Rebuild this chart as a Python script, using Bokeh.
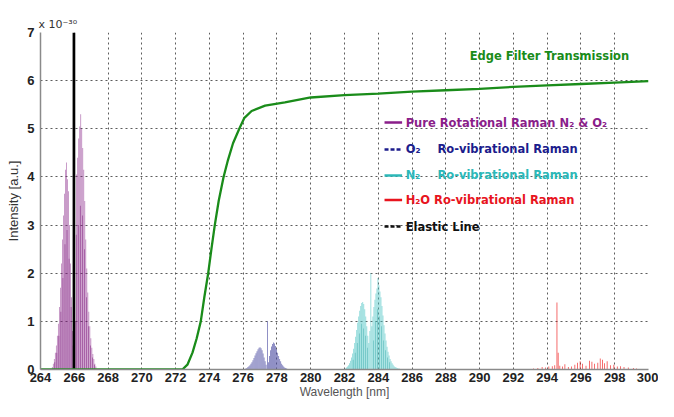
from bokeh.plotting import figure
from bokeh.models import Label, FixedTicker, Range1d
from bokeh.embed import file_html
from bokeh.resources import INLINE

# ---------------- data ----------------
x_ticks = list(range(264, 301, 2))
y_ticks = list(range(0, 8))

# Pure rotational Raman N2 & O2 (light envelope lines)
rot_x = [264.70, 264.76, 264.82, 264.88, 264.94, 265.00, 265.06, 265.12, 265.18, 265.24,
         265.30, 265.36, 265.42, 265.48, 265.54, 265.60, 265.66, 265.72, 265.78, 265.84,
         265.90, 266.08, 266.14, 266.20, 266.26, 266.32, 266.38, 266.44, 266.50, 266.56,
         266.62, 266.68, 266.74, 266.80, 266.86, 266.92, 266.98, 267.04, 267.10, 267.16,
         267.22, 267.28]
rot_y = [0.05, 0.12, 0.22, 0.35, 0.50, 0.70, 0.95, 1.30, 1.70, 2.20,
         2.70, 3.20, 3.65, 4.15, 4.30, 3.95, 3.70, 3.00, 2.20, 1.50,
         0.80, 1.00, 4.05, 4.40, 4.80, 5.05, 5.30, 5.00, 4.60, 4.15,
         3.50, 2.70, 2.10, 1.60, 1.20, 0.90, 0.65, 0.45, 0.32, 0.22,
         0.12, 0.06]
# Pure rotational Raman (darker interleaved lines)
rot2_x = [264.85, 264.97, 265.09, 265.21, 265.33, 265.45, 265.57, 265.69, 265.81, 265.93,
          266.11, 266.23, 266.35, 266.47, 266.59, 266.71, 266.83, 266.95, 267.07, 267.19]
rot2_y = [0.15, 0.35, 0.70, 1.20, 1.90, 2.60, 2.90, 2.30, 1.30, 0.50,
          2.80, 3.00, 3.40, 3.20, 2.50, 1.50, 0.90, 0.50, 0.25, 0.10]

# O2 ro-vibrational Raman
o2_x = [276.10, 276.16, 276.22, 276.28, 276.34, 276.40, 276.46, 276.52, 276.58, 276.64,
        276.70, 276.76, 276.82, 276.88, 276.94, 277.00, 277.06, 277.12, 277.18, 277.24,
        277.30, 277.36, 277.44, 277.50, 277.56, 277.62, 277.68, 277.74, 277.80, 277.86,
        277.92, 277.98, 278.04, 278.10, 278.16, 278.22, 278.28, 278.34, 278.40, 278.46,
        278.52, 278.58, 278.64, 278.70]
o2_y = [0.01, 0.02, 0.03, 0.05, 0.07, 0.09, 0.12, 0.15, 0.19, 0.24,
        0.29, 0.34, 0.38, 0.42, 0.45, 0.46, 0.44, 0.40, 0.33, 0.25,
        0.17, 0.10, 1.00, 0.15, 0.28, 0.40, 0.48, 0.53, 0.56, 0.54,
        0.49, 0.42, 0.35, 0.28, 0.22, 0.17, 0.12, 0.09, 0.06, 0.04,
        0.03, 0.02, 0.01, 0.01]

# N2 ro-vibrational Raman (light lines)
n2_x = [282.00, 282.06, 282.12, 282.18, 282.24, 282.30, 282.36, 282.42, 282.48, 282.54,
        282.60, 282.66, 282.72, 282.78, 282.84, 282.90, 282.96, 283.02, 283.08, 283.14,
        283.20, 283.26, 283.32, 283.38, 283.44, 283.50, 283.56, 283.62, 283.68, 283.74,
        283.80, 283.86, 283.92, 283.98, 284.04, 284.10, 284.16, 284.22, 284.28, 284.34,
        284.40, 284.46, 284.52, 284.58, 284.64, 284.70, 284.76, 284.82, 284.88, 284.94,
        285.00, 285.06, 285.12, 285.18, 285.24, 285.30, 285.36, 285.42]
n2_y = [0.01, 0.02, 0.04, 0.06, 0.09, 0.13, 0.18, 0.25, 0.33, 0.43,
        0.55, 0.68, 0.82, 0.97, 1.10, 1.22, 1.32, 1.38, 1.40, 1.36,
        1.25, 1.10, 0.90, 0.70, 0.55, 0.80, 2.00, 0.90, 1.10, 1.30,
        1.45, 1.58, 1.68, 1.90, 1.75, 1.62, 1.50, 1.32, 1.12, 0.92,
        0.75, 0.60, 0.47, 0.37, 0.29, 0.22, 0.17, 0.13, 0.10, 0.07,
        0.05, 0.04, 0.03, 0.02, 0.02, 0.01, 0.01, 0.01]
# N2 ro-vibrational Raman (darker interleaved lines)
n2b_x = [282.51, 282.63, 282.75, 282.87, 282.99, 283.11, 283.23, 283.35, 283.71, 283.83,
         283.95, 284.07, 284.19, 284.31, 284.43, 284.55, 284.67]
n2b_y = [0.20, 0.35, 0.55, 0.75, 0.95, 0.85, 0.70, 0.45, 0.60, 1.00,
         1.25, 1.10, 0.90, 0.60, 0.40, 0.25, 0.15]

# H2O ro-vibrational Raman
h2o_x = [293.20, 293.45, 293.70, 293.90, 294.10, 294.30, 294.45, 294.58, 294.65, 294.75,
         294.90, 295.05, 295.25, 295.45, 295.64, 295.80, 295.95, 296.10, 296.30, 296.50,
         296.65, 296.80, 297.00, 297.14, 297.28, 297.40, 297.55, 297.75, 297.95, 298.15,
         298.35, 298.55, 298.80, 299.10, 299.30]
h2o_y = [0.02, 0.03, 0.05, 0.04, 0.06, 0.07, 0.09, 1.39, 0.35, 0.08,
         0.06, 0.11, 0.05, 0.06, 0.10, 0.14, 0.17, 0.12, 0.08, 0.18,
         0.16, 0.12, 0.14, 0.23, 0.20, 0.13, 0.17, 0.09, 0.10, 0.06,
         0.07, 0.05, 0.04, 0.03, 0.02]

# Elastic line
elastic_x = [265.98]
elastic_y = [7.5]

# Edge filter transmission
edge_x = [264.0, 272.4, 272.7, 273.0, 273.25, 273.49, 273.7, 273.93, 274.12, 274.32,
          274.55, 274.84, 275.1, 275.4, 275.77, 276.06, 276.5, 277.3, 278.47, 280.0,
          282.0, 284.0, 286.0, 288.0, 290.0, 292.0, 294.0, 296.0, 298.0, 300.0]
edge_y = [0.0, 0.0, 0.1, 0.35, 0.65, 1.0, 1.5, 2.0, 2.5, 3.0,
          3.5, 4.0, 4.35, 4.7, 5.0, 5.22, 5.37, 5.48, 5.55, 5.65,
          5.70, 5.73, 5.77, 5.80, 5.83, 5.87, 5.90, 5.93, 5.96, 5.99]

# legend
leg_labels = ["Pure Rotational Raman N\u2082 & O\u2082", "O\u2082", "N\u2082",
              "H\u2082O Ro-vibrational Raman", "Elastic Line"]
leg_second = ["", "Ro-vibrational Raman", "Ro-vibrational Raman", "", ""]
leg_colors = ["#8a1e8a", "#1c1c8c", "#2cb8b8", "#e8141e", "#111111"]
leg_dash = ["solid", "4 2", "solid", "solid", "4 2"]
leg_y = [5.13, 4.57, 4.03, 3.52, 2.97]

FONT = "Liberation Sans"
LFONT = "DejaVu Sans"
PURPLE_L = "#8a2a8a"
PURPLE_D = "#70006f"
GREEN = "#1a8c1a"

p = figure(width=658, height=401, output_backend="svg", toolbar_location=None,
           x_range=Range1d(264, 300), y_range=Range1d(0, 7),
           min_border_left=40, min_border_right=10, min_border_top=32, min_border_bottom=32)
p.outline_line_color = None
p.background_fill_color = "white"
p.border_fill_color = "white"

# "x 10^-30" as a left-aligned title
p.title.text = "x 10\u207b\u00b3\u2070"
p.title.align = "left"
p.title.text_font = LFONT
p.title.text_font_size = "11px"
p.title.text_font_style = "normal"
p.title.text_color = "#333333"
p.title.offset = -2
p.title.standoff = 4

# grids
p.xgrid.ticker = FixedTicker(ticks=x_ticks)
p.ygrid.ticker = FixedTicker(ticks=y_ticks)
for g in (p.xgrid, p.ygrid):
    g.grid_line_color = "#4a4a4a"
    g.grid_line_dash = "2 3"
    g.grid_line_width = 1
    g.grid_line_alpha = 0.9

# axes
p.xaxis.ticker = FixedTicker(ticks=x_ticks)
p.yaxis.ticker = FixedTicker(ticks=y_ticks)
for ax in (p.xaxis, p.yaxis):
    ax.axis_line_color = "#8a8a8a"
    ax.axis_line_width = 1.5
    ax.major_tick_line_color = None
    ax.minor_tick_line_color = None
    ax.major_tick_out = 0
    ax.major_tick_in = 0
    ax.minor_tick_out = 0
    ax.minor_tick_in = 0
    ax.major_label_text_font = FONT
    ax.major_label_text_font_style = "bold"
    ax.major_label_text_font_size = "13px"
    ax.major_label_text_color = "#222222"
    ax.axis_label_text_font = FONT
    ax.axis_label_text_font_style = "normal"
p.xaxis.axis_label = "Wavelength [nm]"
p.xaxis.axis_label_text_font_size = "12px"
p.xaxis.axis_label_text_color = "#555555"
p.xaxis.major_label_standoff = 3
p.xaxis.axis_label_standoff = 0
p.yaxis.axis_label = "Intensity [a.u.]"
p.yaxis.axis_label_text_font_size = "13px"
p.yaxis.axis_label_text_color = "#333333"
p.yaxis.major_label_standoff = 6
p.yaxis.axis_label_standoff = 3

# spectra
p.vbar(x=rot_x, top=rot_y, bottom=0, width=0.05, fill_color=PURPLE_L, fill_alpha=0.55, line_color=None)
p.vbar(x=rot2_x, top=rot2_y, bottom=0, width=0.025, fill_color=PURPLE_D, fill_alpha=0.95, line_color=None)
p.vbar(x=o2_x, top=o2_y, bottom=0, width=0.05, fill_color="#5050a4", fill_alpha=0.75, line_color=None)
p.vbar(x=n2_x, top=n2_y, bottom=0, width=0.05, fill_color="#50c4c4", fill_alpha=0.65, line_color=None)
p.vbar(x=n2b_x, top=n2b_y, bottom=0, width=0.025, fill_color="#1a9a9a", fill_alpha=0.8, line_color=None)
p.vbar(x=h2o_x, top=h2o_y, bottom=0, width=0.04, fill_color="#ee1111", fill_alpha=0.9, line_color=None)
p.vbar(x=elastic_x, top=elastic_y, bottom=0, width=0.16, fill_color="#000000", line_color=None)
p.line(edge_x, edge_y, line_color=GREEN, line_width=2.3)

# edge filter label
p.add_layout(Label(x=289.41, y=6.51, text="Edge Filter Transmission", text_font=LFONT,
                   text_font_size="11.5px", text_font_style="bold", text_color=GREEN,
                   text_baseline="middle"))

# legend
for lab, sec, col, dash, yy in zip(leg_labels, leg_second, leg_colors, leg_dash, leg_y):
    p.segment(x0=[284.37], y0=[yy], x1=[285.41], y1=[yy], line_color=col,
              line_width=2.5, line_dash=dash)
    p.add_layout(Label(x=285.62, y=yy, text=lab, text_font=LFONT, text_font_size="11.5px",
                       text_font_style="bold", text_color=col, text_baseline="middle"))
    if sec:
        p.add_layout(Label(x=287.50, y=yy, text=sec, text_font=LFONT, text_font_size="11.5px",
                           text_font_style="bold", text_color=col, text_baseline="middle"))

open("out.html", "w").write(file_html(p, INLINE))
